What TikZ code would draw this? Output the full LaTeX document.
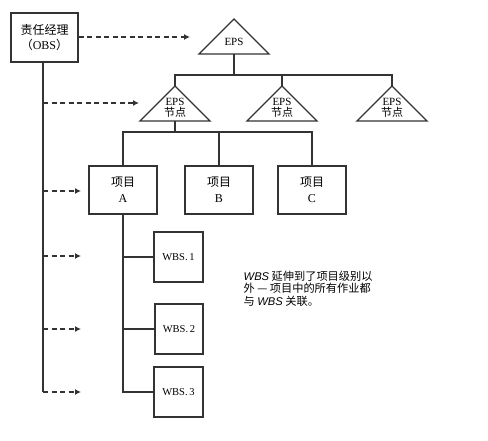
\documentclass[tikz,border=0pt]{standalone}
\usepackage{fontspec}
\setmainfont{Liberation Serif}
\newfontfamily\cjk{Noto Sans CJK SC}
\newfontfamily\lsans{Liberation Sans}
\usetikzlibrary{arrows.meta,calc}
\begin{document}
\begin{tikzpicture}[x=1pt,y=-1pt,line width=1.4pt,draw=black!80]
\useasboundingbox (0,0) rectangle (488,440);
\tikzset{
  box/.style={draw=black!80,line width=1.4pt,inner sep=0pt,align=center,font=\fontsize{12}{14}\selectfont},
  tri/.style={draw=black!80,line width=1.4pt,line join=miter},
  lbl/.style={inner sep=0pt,align=center,font=\fontsize{11}{11.5}\selectfont},
  dasharrow/.style={draw=black!80,line width=1.4pt,dash pattern=on 5pt off 3.5pt,-{Latex[length=6pt,width=6pt]}},
  link/.style={draw=black!80,line width=1.4pt},
}
% OBS box
\node[box,minimum width=67pt,minimum height=49pt] (obs) at (44.5,37.5)
  {{\cjk 责任经理}\\[1pt]{\cjk （}OBS{\cjk ）}};
\coordinate (spineTop) at (43,62);
% top EPS triangle
\draw[tri] (199,54) coordinate (epsL) -- (234,19) coordinate (epsT) -- (269,54) coordinate (epsR) -- cycle;
\coordinate (epsB) at (234,54);
\node[lbl] (epsText) at (234,42) {EPS};
% EPS node triangles
\foreach \n/\x in {n1/175,n2/282,n3/392}{
  \draw[tri] (\x-35,121) -- (\x,86) coordinate (\n T) -- (\x+35,121) -- cycle;
  \coordinate (\n B) at (\x,121);
  \node[lbl] (\n Text) at (\x,108) {EPS\\{\cjk 节点}};
}
% bus lines
\coordinate (bus1) at (0,75);
\draw[link] (epsB) -- (epsB |- bus1);
\draw[link] (n1T) -- (n1T |- bus1) -| (n3T);
\draw[link] (n2T) -- (n2T |- bus1);
% project boxes
\node[box,minimum width=68pt,minimum height=48pt] (pA) at (123,190) {{\cjk 项目}\\[2pt]A};
\node[box,minimum width=68pt,minimum height=48pt] (pB) at (219,190) {{\cjk 项目}\\[2pt]B};
\node[box,minimum width=68pt,minimum height=48pt] (pC) at (312,190) {{\cjk 项目}\\[2pt]C};
\coordinate (bus2) at (0,132);
\draw[link] (n1B) -- (n1B |- bus2);
\draw[link] (pA.north) -- (pA.north |- bus2) -| (pC.north);
\draw[link] (pB.north) -- (pB.north |- bus2);
% WBS boxes
\node[box,minimum width=49pt,minimum height=50pt,font=\fontsize{10.5}{12}\selectfont] (w1) at (178.5,257) {WBS.\,1};
\node[box,minimum width=48pt,minimum height=50pt,font=\fontsize{10.5}{12}\selectfont] (w2) at (179,329) {WBS.\,2};
\node[box,minimum width=49pt,minimum height=50pt,font=\fontsize{10.5}{12}\selectfont] (w3) at (178.5,392) {WBS.\,3};
\draw[link] (pA.south) |- (w3.west);
\draw[link] (pA.south |- w1.west) -- (w1.west);
\draw[link] (pA.south |- w2.west) -- (w2.west);
% OBS spine and dashed arrows
\coordinate (spineEnd) at (spineTop |- w3.west);
\draw[link] (spineTop) -- (spineEnd);
\coordinate (a1) at (190,37);
\coordinate (a2) at (139,103);
\coordinate (a3) at (81,191);
\coordinate (a4) at (81,256);
\coordinate (a5) at (81,329);
\coordinate (a6) at (81,392);
\draw[dasharrow] (obs.east |- a1) -- (a1);
\draw[dasharrow] (spineTop |- a2) -- (a2);
\draw[dasharrow] (spineTop |- a3) -- (a3);
\draw[dasharrow] (spineTop |- a4) -- (a4);
\draw[dasharrow] (spineTop |- a5) -- (a5);
\draw[dasharrow] (spineEnd) -- (a6);
% annotation
\node[anchor=north west,inner sep=0pt,align=left,font=\cjk\fontsize{11.2}{12.2}\selectfont] (note) at (243,270.5)
  {{\lsans\itshape WBS} 延伸到了项目级别以\\外 — 项目中的所有作业都\\与 {\lsans\itshape WBS} 关联。};
\end{tikzpicture}
\end{document}
